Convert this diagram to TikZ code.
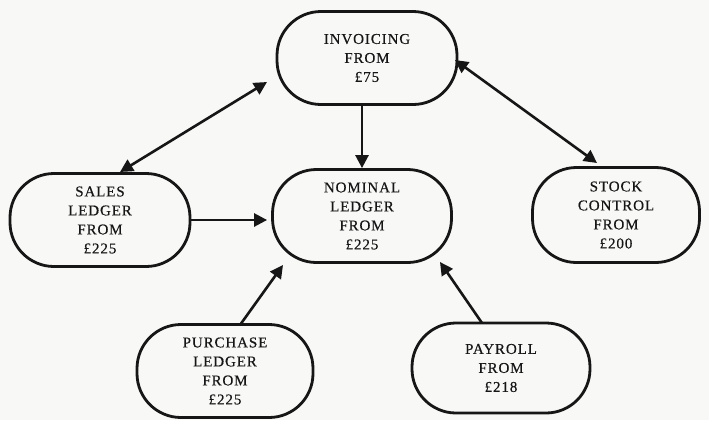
\documentclass[tikz,border=0pt]{standalone}
\usepackage{fontspec}
\setmainfont{Liberation Serif}[LetterSpace=6,FakeBold=0.4]
\usetikzlibrary{arrows.meta}
\definecolor{ink}{RGB}{22,22,22}
\definecolor{paper}{RGB}{248,248,246}
\begin{document}
\begin{tikzpicture}[x=1bp,y=-1bp,
  box/.style={draw=ink, line width=2.8bp, rounded corners=44bp, minimum height=93bp,
    inner sep=0pt, align=center, text=ink, font=\fontsize{15bp}{19bp}\selectfont},
  conn/.style={draw=ink, line width=2.6bp, -{Triangle[length=13bp,width=13bp]}},
  biconn/.style={draw=ink, line width=2.6bp, {Triangle[length=13bp,width=13bp]}-{Triangle[length=13bp,width=13bp]}}]
\fill[paper] (0,0) rectangle (709,420);
\useasboundingbox (0,0) rectangle (709,420);
\node[box, minimum width=180bp] (inv) at (367,58) {INVOICING\\FROM\\£75};
\node[box, minimum width=179bp] (nom) at (362,216) {NOMINAL\\LEDGER\\FROM\\£225};
\node[box, minimum width=180bp] (sal) at (100,220) {SALES\\LEDGER\\FROM\\£225};
\node[box, minimum width=167bp, minimum height=95bp] (sto) at (616,215) {STOCK\\CONTROL\\FROM\\£200};
\node[box, minimum width=176bp] (pur) at (225,371) {PURCHASE\\LEDGER\\FROM\\£225};
\node[box, minimum width=178bp, minimum height=90bp] (pay) at (501,368) {PAYROLL\\FROM\\£218};
\draw[biconn] ([shift={(-100,24)}]inv.center) -- ([shift={(20,-48)}]sal.center);
\draw[biconn] ([shift={(88,2)}]inv.center) -- ([shift={(-19,-52)}]sto.center);
\draw[conn] (nom.north |- inv.south) -- (nom.north);
\draw[conn] (sal.east) -- ([xshift=-4bp]sal.east -| nom.west);
\draw[conn] ([shift={(15,-46)}]pur.center) -- ([shift={(-79,49)}]nom.center);
\draw[conn] ([shift={(-19,-45)}]pay.center) -- ([shift={(78,46)}]nom.center);
\end{tikzpicture}
\end{document}
